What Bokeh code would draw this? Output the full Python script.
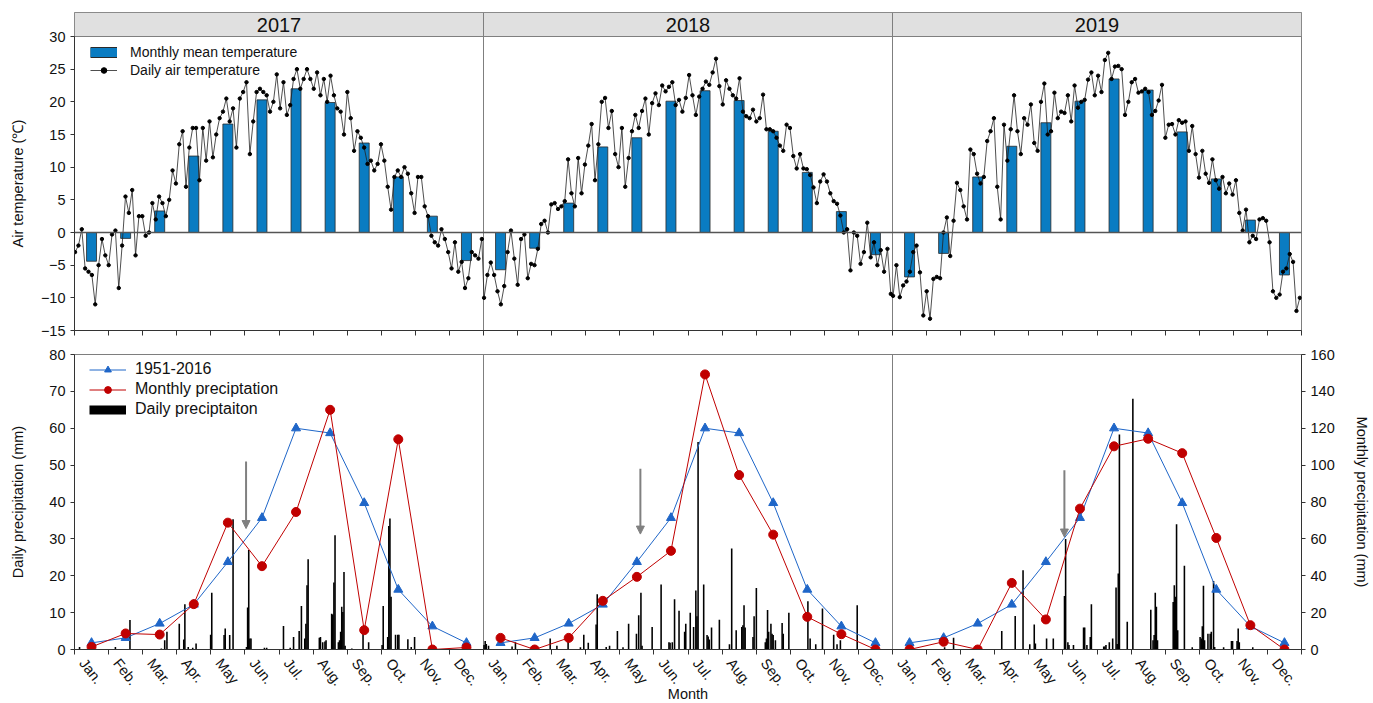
from bokeh.plotting import figure
from bokeh.models import (Range1d, LinearAxis, FixedTicker, Legend, LegendItem, Arrow,
                          NormalHead, ColumnDataSource, Span)
from bokeh.layouts import column
from bokeh.embed import file_html
from bokeh.resources import INLINE
from bokeh.core.properties import value

FONT = "Liberation Sans"
NAN = float("nan")

# ---------------- data ----------------
years = ["2017", "2018", "2019"]
months = ["Jan.", "Feb.", "Mar.", "Apr.", "May", "Jun.", "Jul.", "Aug.", "Sep.", "Oct.", "Nov.", "Dec."]
temp_ticks = [-15, -10, -5, 0, 5, 10, 15, 20, 25, 30]
daily_p_ticks = [0, 10, 20, 30, 40, 50, 60, 70, 80]
monthly_p_ticks = [0, 20, 40, 60, 80, 100, 120, 140, 160]

# daily air temperature, read every third day (day 1, 4, 7, ... 364)
sample_days = list(range(1, 365, 3))
temp_daily_2017 = [
    -3, -2, 0.5, -5.5, -6, -6.5, -11, -5, -1, -3.5,
    -5, -0.3, 0.3, -8.5, -2, 5.5, 3, 6.5, -3.5, 2.5,
    2.5, -0.5, 0, 4.5, 2, 5.5, 4.5, 2.5, 5, 9.5,
    7.5, 13.5, 15.5, 7, 13, 16, 16, 8, 16, 11,
    17, 11.5, 15, 17.5, 18.5, 20.5, 17, 19, 13, 20.5,
    21.5, 23, 12, 17, 21.5, 22, 21.5, 21, 18.5, 20,
    24.2, 19, 23, 18, 19.5, 23.5, 25, 22, 23.5, 25,
    23.5, 22, 24.5, 21, 23.5, 20, 24, 21, 19, 18.5,
    15, 21.5, 17.5, 12.5, 15.5, 14.5, 13, 10.5, 11, 9.5,
    10.5, 13.5, 11, 7, 3.5, 8.5, 9.5, 8.5, 10, 9,
    6, 3, 8.5, 8.5, 4, 2.5, -0.5, -1.5, -2, 0.5,
    -1, -3, -5.5, -1.5, -6, -4.5, -8.5, -7, -3, -3.5,
    -4, -1]
temp_daily_2018 = [
    -10, -6.5, -4.6, -6.5, -9, -11, -8.2, -3, 0.3, -4,
    -8, -1, -0.3, -7, -4.8, -5, -2.5, 1.3, 1.8, 0,
    4.3, 4.5, 3.6, 4, 4.8, 11.2, 6, 4, 11.4, 6,
    10.4, 13.3, 16.6, 8, 13.5, 20, 20.6, 16, 18.6, 12,
    10, 16, 7, 11.4, 15.5, 18, 16, 18.6, 20.5, 15,
    19.8, 21.3, 19.5, 22.5, 21.6, 22.3, 23, 19.5, 20.3, 18.5,
    20.6, 24.1, 21, 18, 20.8, 22, 23.1, 22.6, 24.5, 26.6,
    22.4, 19.6, 23.3, 22, 21, 20.5, 23.6, 18.5, 17.8, 17.5,
    18.8, 17, 17.5, 21.1, 15.8, 15.8, 15.5, 14.5, 13.3, 12.5,
    16.5, 16, 11.7, 9.8, 12, 9.8, 9.7, 8.8, 6.9, 4.5,
    7.8, 8.9, 7.8, 6, 4.8, 4.4, 2.6, 0, 0.5, -5.8,
    0, -0.5, -4.8, -3, 1.5, -3.8, -1.5, -5, -2.7, -6,
    -2.5, -9.4]
temp_daily_2019 = [
    -9.7, -5, -9.9, -8.1, -7.5, -6, -3, -2, -6.1, -12.7,
    -9, -13.2, -7.1, -6.8, -7, 0, 2.3, -3.6, 1.8, 7.6,
    6.5, 4, 2, 12.7, 12, 9, 7.5, 8.5, 14, 15.5,
    17.5, 7, 2, 16.5, 11, 15.8, 21, 15.5, 12, 17.5,
    16.5, 19.6, 13.7, 12.5, 20, 22.8, 15, 15.5, 21.4, 17.5,
    18.5, 18.3, 21, 17, 22.5, 19.1, 20, 20.3, 23.4, 24.5,
    21, 24, 21.5, 26.4, 27.5, 23.5, 25.4, 25.5, 25, 18,
    20, 23, 23.5, 21.4, 21.6, 22, 21.5, 18, 18.6, 20.2,
    22.6, 14.5, 16.5, 16.6, 15, 17.2, 16.8, 17, 12.5, 16.3,
    12, 8.4, 12.5, 9, 7.6, 11.2, 8, 6.7, 8.5, 6,
    7.5, 5.8, 8, 3, 0.3, 3.5, -1.5, -0.5, -1, 2,
    2.2, 1.8, -1.5, -9, -10, -9.5, -6, -5.5, -3.3, -4.5,
    -12, -10]

temp_monthly_2017 = [-4.4, -0.9, 3.3, 11.7, 16.6, 20.3, 22.0, 19.9, 13.7, 8.5, 2.5, -4.3]
temp_monthly_2018 = [-5.7, -2.4, 4.5, 13.1, 14.5, 20.1, 21.7, 20.2, 15.5, 9.2, 3.2, -3.4]
temp_monthly_2019 = [-6.8, -3.2, 8.5, 13.2, 16.8, 20.1, 23.5, 21.8, 15.4, 8.2, 1.9, -6.5]

precip_monthly_normal = [3.6, 6.3, 14.1, 24.4, 47.5, 71.4, 120, 117.4, 79.5, 32.5, 12.6, 3.6]
precip_monthly_2017 = [1.4, 8.7, 8.1, 24.6, 68.8, 45.2, 74.6, 130, 10.5, 114, 0, 1.1]
precip_monthly_2018 = [6.3, 0, 6.3, 26.4, 39.4, 53.5, 149.2, 94.6, 62.3, 17.7, 8.3, 0]
precip_monthly_2019 = [0, 4.2, 0, 36.1, 16.3, 76.4, 110.2, 114.3, 106.5, 60.5, 13.2, 0]

rain_days_2017 = [5, 37, 50, 78, 81, 83, 94, 98, 99, 102, 106, 109, 122, 123, 134, 135, 139, 142,
                  154, 155, 156, 157, 158, 170, 172, 187, 193, 196, 201, 203, 206, 207, 208, 209,
                  219, 220, 222, 224, 225, 230, 231, 232, 233, 236, 237, 238, 239, 240, 241, 242,
                  248, 258, 263, 275, 276, 280, 281, 282, 283, 287, 289, 290, 298, 301, 304]
rain_mm_2017 = [0.7, 0.7, 8, 0.3, 2.5, 4.8, 7, 2.7, 12.3, 0.7, 0.5, 1.6, 4, 15.4, 3.9, 5.7, 3.9, 35.3,
                0.7, 11.4, 27, 3, 3, 0.5, 0.5, 6.4, 0.5, 3.4, 5, 11.8, 3, 7, 17.4, 24.5,
                3.2, 3.4, 2, 2.2, 2.5, 9.7, 9.5, 18.2, 31, 2, 2.5, 4.8, 11.6, 10.2, 21, 1,
                0.3, 5.2, 2, 1.2, 11.8, 3.4, 33.5, 35.5, 14.3, 4, 4, 4, 2.8, 0.7, 3.4]
rain_days_2018 = [1, 2, 3, 5, 26, 29, 60, 66, 76, 87, 90, 94, 101, 102, 110, 113, 120, 125, 130,
                  137, 139, 141, 142, 151, 159, 166, 167, 169, 171, 175, 180, 181, 185, 188, 190,
                  191, 192, 197, 200, 201, 202, 204, 211, 220, 222, 226, 231, 232, 233, 234, 241,
                  242, 244, 252, 253, 254, 255, 257, 258, 259, 261, 267, 268, 273, 290, 292, 297,
                  303, 313, 316, 319, 334]
rain_mm_2018 = [1.2, 2.3, 1.5, 1, 0.8, 2, 3, 1, 4.3, 0.6, 4, 1.8, 6.8, 15, 0.7, 1, 5, 0.6, 7,
                4.3, 9.3, 15.4, 1, 6.1, 17.6, 2, 1.8, 2, 13.6, 10.5, 4.8, 7, 10, 6.1, 16,
                9, 56.3, 17.6, 3.9, 3.5, 2.7, 6, 8.1, 1.4, 27.4, 5.2, 6.1, 6.6, 12, 6, 3.4,
                9, 16.7, 2, 3, 10.7, 4.8, 7, 4.3, 3.9, 2.5, 7.2, 4.3, 10, 13.1, 3, 1.4,
                11.1, 4, 1.4, 2.5, 12]
rain_days_2019 = [47, 55, 98, 110, 117, 123, 127, 128, 138, 144, 154, 155, 157, 158, 162, 171, 172,
                  174, 177, 178, 189, 190, 191, 194, 197, 200, 201, 202, 203, 210, 215, 231, 233,
                  234, 235, 236, 237, 251, 252, 253, 254, 255, 261, 268, 275, 276, 277, 278, 279,
                  282, 284, 285, 287, 288, 296, 303, 304, 308, 309, 310, 322]
rain_mm_2019 = [0.6, 3.2, 5, 9.1, 21.5, 1.4, 6.8, 1.6, 3, 3, 14.5, 30, 2, 1.2, 1.2, 6, 6,
                1.2, 3.4, 12.3, 0.8, 0.8, 1.2, 2, 3, 16.8, 1.5, 20.6, 58.3, 7.5, 68, 10.8, 2.5,
                3.9, 15.4, 11.6, 2.5, 12.9, 17.4, 14.3, 34, 5.2, 22.7, 0.6, 3.4, 3, 6.3, 17.3, 2.5,
                4.3, 4.3, 4.8, 18.6, 0.7, 0.6, 2.3, 2.3, 2.3, 5.7, 2, 0.6]

# gray arrows (day of year, daily-precipitation scale)
arrow_day = [153.6, 140.5, 153.9]
arrow_top = [51.0, 49.0, 48.6]
arrow_bottom = [32.8, 31.3, 30.5]

# ---------------- helpers ----------------
temp_daily = [temp_daily_2017, temp_daily_2018, temp_daily_2019]
temp_monthly = [temp_monthly_2017, temp_monthly_2018, temp_monthly_2019]
precip_monthly = [precip_monthly_2017, precip_monthly_2018, precip_monthly_2019]
rain_days = [rain_days_2017, rain_days_2018, rain_days_2019]
rain_mm = [rain_mm_2017, rain_mm_2018, rain_mm_2019]


def day_x(yi, d):
    return yi * 12 + (d - 0.5) * 12.0 / 365.0


def month_x(yi, m):
    return yi * 12 + m + 0.5


BAR_BLUE = "#0a7cc2"
LINE_BLUE = "#1f66c8"
RED = "#c00000"
FRAME = "#7f7f7f"
TXT = "#111111"

FW = 1227
LB, RB = 74, 72
TOP_FH = 318           # 294 px plot + 24 px title strip
px_per_deg = 294.0 / 45.0
strip_deg = 24.0 / px_per_deg


def style_axis(ax):
    ax.major_label_text_font = FONT
    ax.major_label_text_font_size = "14.5px"
    ax.major_label_text_color = TXT
    ax.axis_label_text_font = FONT
    ax.axis_label_text_font_size = "14.5px"
    ax.axis_label_text_font_style = "normal"
    ax.axis_label_text_color = TXT
    ax.major_tick_in = 0
    ax.major_tick_out = 4
    ax.minor_tick_line_color = None
    ax.axis_line_color = "#333333"
    ax.major_tick_line_color = "#333333"
    ax.major_label_standoff = 5


# ---------------- top figure: temperature ----------------
top = figure(frame_width=FW, frame_height=TOP_FH, min_border_left=LB, min_border_right=RB,
             min_border_top=12, min_border_bottom=16,
             x_range=Range1d(0, 36), y_range=Range1d(-15, 30 + strip_deg),
             x_axis_type=None, y_axis_type=None,
             output_backend="svg", toolbar_location=None)
top.outline_line_color = FRAME
top.border_fill_color = "white"

yax = LinearAxis(ticker=FixedTicker(ticks=temp_ticks), bounds=(-15, 30),
                 axis_label="Air temperature (℃)" + "\u00a0" * 6)
xax_t = LinearAxis(ticker=FixedTicker(ticks=[], minor_ticks=list(range(0, 37))), bounds=(0, 36))
style_axis(yax)
style_axis(xax_t)
yax.axis_label_standoff = 12
xax_t.minor_tick_line_color = "#333333"
xax_t.minor_tick_in = 0
xax_t.minor_tick_out = 5
top.add_layout(yax, "left")
top.add_layout(xax_t, "below")

strip_left = [i * 12 for i in range(3)]
strip_right = [i * 12 + 12 for i in range(3)]
strip_mid = [i * 12 + 6 for i in range(3)]
top.quad(left=strip_left, right=strip_right, bottom=30, top=30 + strip_deg,
         fill_color="#e0e0e0", line_color=FRAME, line_width=1)
top.text(x=strip_mid, y=[30 + strip_deg / 2] * 3, text=years, text_align="center",
         text_baseline="middle", text_font=value(FONT), text_font_size="20px", text_color=TXT)
top.quad(left=strip_left, right=strip_right, bottom=-15, top=30,
         fill_color=None, line_color=FRAME, line_width=1)

top.add_layout(Span(location=0, dimension="width", line_color="#555555", line_width=1.5))

mx, mt = [], []
for yi in range(3):
    for m in range(12):
        mx.append(month_x(yi, m))
        mt.append(temp_monthly[yi][m])
bars = top.vbar(x=mx, top=mt, bottom=0, width=0.293, fill_color=BAR_BLUE,
                line_color="#2a2a2a", line_width=0.8)

dx, dy = [], []
for yi in range(3):
    for d, t in zip(sample_days, temp_daily[yi]):
        dx.append(day_x(yi, d))
        dy.append(t)
tline = top.line(dx, dy, line_color="#222222", line_width=0.8)
tdots = top.scatter(dx, dy, size=3.4, marker="circle", fill_color="black", line_color="black")

# legend-only swatches (nothing drawn in the plot area)
lg_o = top.line(x=[NAN], y=[NAN], line_color="#2a2a2a", line_width=11, line_cap="butt")
lg_f = top.line(x=[NAN], y=[NAN], line_color=BAR_BLUE, line_width=9, line_cap="butt")
lg_dot = top.scatter(x=[NAN], y=[NAN], size=3, marker="circle", fill_color="black", line_color="black")
leg_t = Legend(items=[LegendItem(label="Monthly mean temperature", renderers=[lg_o, lg_f]),
                      LegendItem(label="Daily air temperature", renderers=[tline, lg_dot])],
               location=(16, 252), glyph_width=27, glyph_height=14, label_height=16,
               label_standoff=13, spacing=2, padding=0, margin=0,
               label_text_font=FONT, label_text_font_size="14px", label_text_color=TXT,
               background_fill_alpha=0, border_line_color=None)
top.add_layout(leg_t)

# ---------------- bottom figure: precipitation ----------------
bot = figure(frame_width=FW, frame_height=295, min_border_left=LB, min_border_right=RB,
             min_border_top=8, min_border_bottom=46,
             x_range=Range1d(0, 36), y_range=Range1d(0, 80),
             x_axis_type=None, y_axis_type=None,
             output_backend="svg", toolbar_location=None)
bot.extra_y_ranges = {"monthly": Range1d(0, 160)}
bot.outline_line_color = FRAME
bot.border_fill_color = "white"

ly = LinearAxis(ticker=FixedTicker(ticks=daily_p_ticks), axis_label="Daily precipitation (mm)")
ry = LinearAxis(y_range_name="monthly", ticker=FixedTicker(ticks=monthly_p_ticks),
                axis_label="Monthly precipitation (mm)")
label_shift = 0.27
mticks = [month_x(yi, m) - label_shift for yi in range(3) for m in range(12)]
overrides = {month_x(yi, m) - label_shift: months[m] for yi in range(3) for m in range(12)}
bx = LinearAxis(ticker=FixedTicker(ticks=mticks, minor_ticks=list(range(0, 37))),
                major_label_overrides=overrides, axis_label="Month")
for ax in (ly, ry, bx):
    style_axis(ax)
ly.axis_label_standoff = 20
ry.axis_label_standoff = 16
bx.major_tick_line_color = None
bx.minor_tick_line_color = "#333333"
bx.minor_tick_in = 0
bx.minor_tick_out = 5
bx.major_label_orientation = -0.9
bx.major_label_standoff = 6
bx.axis_label_standoff = -11
bot.add_layout(ly, "left")
bot.add_layout(ry, "right")
bot.add_layout(bx, "below")

bot.quad(left=strip_left, right=strip_right, bottom=0, top=80,
         fill_color=None, line_color=FRAME, line_width=1)

rx, rh = [], []
for yi in range(3):
    for d, r in zip(rain_days[yi], rain_mm[yi]):
        rx.append(day_x(yi, d))
        rh.append(r)
dbars = bot.vbar(x=rx, top=rh, bottom=0, width=1.4 * 12 / 365, fill_color="black",
                 line_color=None)

normal_r = []
month_r = []
for yi in range(3):
    xs = [month_x(yi, m) for m in range(12)]
    l1 = bot.line(xs, precip_monthly_normal, y_range_name="monthly", line_color=LINE_BLUE, line_width=1)
    s1 = bot.scatter(xs, precip_monthly_normal, y_range_name="monthly", marker="triangle", size=9,
                     fill_color=LINE_BLUE, line_color=LINE_BLUE)
    l2 = bot.line(xs, precip_monthly[yi], y_range_name="monthly", line_color=RED, line_width=1)
    s2 = bot.scatter(xs, precip_monthly[yi], y_range_name="monthly", marker="circle", size=9,
                     fill_color=RED, line_color=RED)
    if yi == 0:
        normal_r = [l1, s1]
        month_r = [l2, s2]

arrow_src = ColumnDataSource(dict(
    x_start=[day_x(yi, d) for yi, d in enumerate(arrow_day)],
    x_end=[day_x(yi, d) for yi, d in enumerate(arrow_day)],
    y_start=arrow_top, y_end=arrow_bottom))
bot.add_layout(Arrow(end=NormalHead(size=8, fill_color="#808080", line_color="#808080"),
                     source=arrow_src, x_start="x_start", y_start="y_start",
                     x_end="x_end", y_end="y_end", line_color="#808080", line_width=2))

lg_bar = bot.line(x=[NAN], y=[NAN], line_color="black", line_width=9, line_cap="butt")
leg_b = Legend(items=[LegendItem(label="1951-2016", renderers=normal_r),
                      LegendItem(label="Monthly preciptation", renderers=month_r),
                      LegendItem(label="Daily preciptaiton", renderers=[lg_bar])],
               location=(15, 231), glyph_width=37, glyph_height=17, label_height=17,
               label_standoff=9, spacing=2, padding=0, margin=0,
               label_text_font=FONT, label_text_font_size="16px", label_text_color=TXT,
               background_fill_alpha=0, border_line_color=None)
bot.add_layout(leg_b)

layout = column(top, bot, spacing=0)
open("out.html", "w").write(file_html(layout, INLINE))
